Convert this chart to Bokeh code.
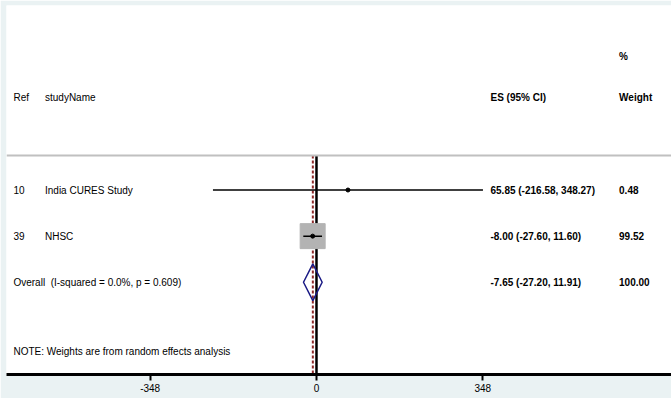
from bokeh.plotting import figure
from bokeh.models import Range1d, Span, ColumnDataSource, FixedTicker
from bokeh.embed import file_html
from bokeh.resources import INLINE
from bokeh.core.properties import value

# ---------------- data ----------------
refs = ["10", "39"]
study_names = ["India CURES Study", "NHSC"]
es = [65.85, -8.00]
ci_lo = [-216.58, -27.60]
ci_hi = [348.27, 11.60]
weights = [0.48, 99.52]
es_text = ["65.85 (-216.58, 348.27)", "-8.00 (-27.60, 11.60)"]
weight_text = ["0.48", "99.52"]

overall_label = "Overall\u00a0 (I-squared = 0.0%, p = 0.609)"
overall_es = -7.65
overall_lo = -27.20
overall_hi = 11.91
overall_es_text = "-7.65 (-27.20, 11.91)"
overall_weight_text = "100.00"

note_text = "NOTE: Weights are from random effects analysis"
tick_values = [-348, 0, 348]
tick_labels = ["-348", "0", "348"]

# ---------------- layout constants ----------------
FONT = "Liberation Sans"
BG = "#EAF2F3"
rows = [1, 2]
overall_row = 3
header_row = -1
pct_row = -1.9
sep_row = 0.25
note_row = 4.5
axis_row = 5

col_ref = -634
col_name = -568
col_es = 364
col_w = 633

W, H = 671, 398
p = figure(width=W, height=H, output_backend="svg", toolbar_location=None,
           x_range=Range1d(-648.5, 742.7), y_range=Range1d(5, -3),
           y_axis_location=None, min_border_left=6, min_border_right=0,
           min_border_top=5, min_border_bottom=24)
p.background_fill_color = "white"
p.border_fill_color = BG
p.outline_line_color = None
p.grid.visible = False

ax = p.xaxis[0]
ax.ticker = FixedTicker(ticks=tick_values)
ax.major_label_overrides = {v: s for v, s in zip(tick_values, tick_labels)}
ax.axis_line_width = 3
ax.axis_line_color = "black"
ax.major_tick_line_width = 2
ax.major_tick_line_color = "black"
ax.major_tick_out = 6
ax.major_tick_in = 0
ax.minor_tick_line_color = None
ax.major_label_standoff = 3
ax.major_label_text_font = FONT
ax.major_label_text_font_size = "10px"
ax.major_label_text_color = "black"

# separator line under header
p.add_layout(Span(location=sep_row, dimension="width", line_color="#C0C0C0", line_width=2))

# zero (no effect) line
p.segment(x0=[0], y0=[sep_row], x1=[0], y1=[axis_row], line_color="black", line_width=2.5)
# overall effect line
p.segment(x0=[overall_es], y0=[sep_row], x1=[overall_es], y1=[axis_row],
          line_color="#8E2A2A", line_width=2, line_dash="3 2")

src = ColumnDataSource(dict(
    y=rows, es=es, lo=ci_lo, hi=ci_hi,
    box=[25 * (w / max(weights)) ** 0.5 for w in weights],
    ref=refs, name=study_names, est=es_text, wt=weight_text,
    xr=[col_ref] * 2, xn=[col_name] * 2, xe=[col_es] * 2, xw=[col_w] * 2,
))

# weight boxes
p.scatter(x="es", y="y", size="box", marker="square", source=src,
          fill_color="#B3B3B3", line_color="#B3B3B3")
# CIs
p.segment(x0="lo", y0="y", x1="hi", y1="y", source=src, line_color="black", line_width=1.5)
p.scatter(x="es", y="y", size=4, marker="circle", source=src,
          fill_color="black", line_color="black")

# overall diamond
dh = 0.4
p.patch(x=[overall_lo, overall_es, overall_hi, overall_es, overall_lo],
        y=[overall_row, overall_row - dh, overall_row, overall_row + dh, overall_row],
        fill_color=None, line_color="#1A1A85", line_width=1.5)

tk = dict(text_font=value(FONT), text_font_size="10px", text_baseline="middle",
          text_align="left", text_color="black")

# study row text
p.text(x="xr", y="y", text="ref", source=src, **tk)
p.text(x="xn", y="y", text="name", source=src, **tk)
p.text(x="xe", y="y", text="est", source=src, text_font_style="bold", **tk)
p.text(x="xw", y="y", text="wt", source=src, text_font_style="bold", **tk)

# headers
p.text(x=[col_ref, col_name], y=[header_row] * 2, text=["Ref", "studyName"], **tk)
p.text(x=[col_es, col_w], y=[header_row] * 2, text=["ES (95% CI)", "Weight"],
       text_font_style="bold", **tk)
p.text(x=[col_w], y=[pct_row], text=["%"], text_font_style="bold", **tk)

# overall
p.text(x=[col_ref], y=[overall_row], text=[overall_label], **tk)
p.text(x=[col_es, col_w], y=[overall_row] * 2, text=[overall_es_text, overall_weight_text],
       text_font_style="bold", **tk)

# note
p.text(x=[col_ref], y=[note_row], text=[note_text], **tk)

open("out.html", "w").write(file_html(p, INLINE))
